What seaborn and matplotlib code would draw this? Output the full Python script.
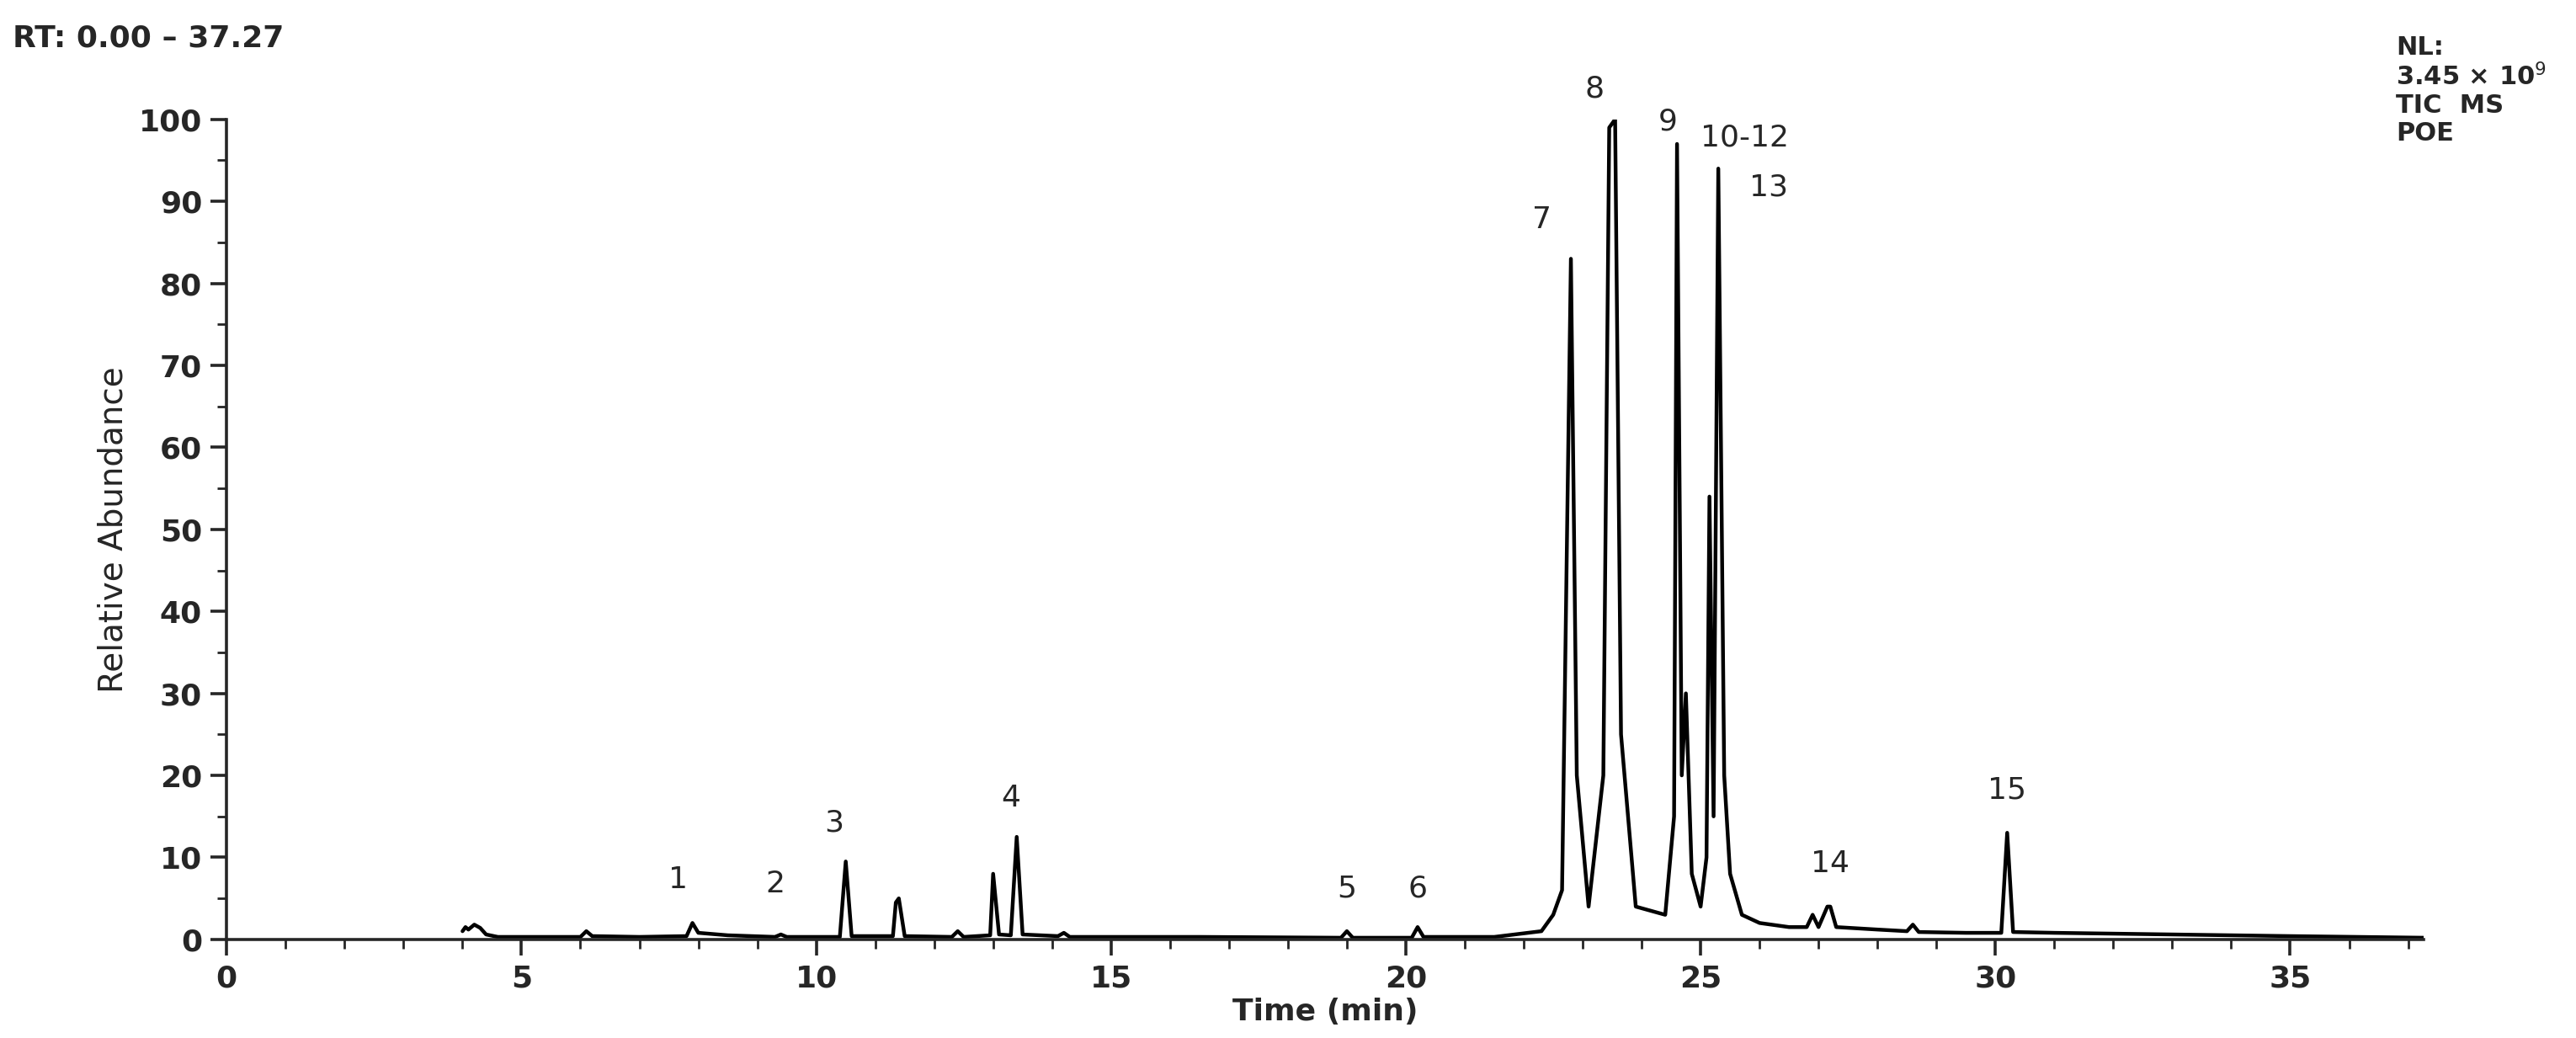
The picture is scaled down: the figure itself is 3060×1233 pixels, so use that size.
import matplotlib
matplotlib.use('Agg')
import matplotlib.pyplot as plt
import seaborn as sns
import pandas as pd
from matplotlib.ticker import MultipleLocator

sns.set_theme(style='ticks')
plt.rcParams['font.family'] = ['DejaVu Sans']

# chromatogram vertices (time min, relative abundance)
rt = [4.0, 4.05, 4.1, 4.2, 4.3, 4.4, 4.6, 6.0, 6.1, 6.2, 7.0, 7.8, 7.9, 8.0, 8.5, 9.3, 9.4, 9.5,
      10.4, 10.5, 10.6, 11.3, 11.35, 11.4, 11.5, 12.3, 12.4, 12.5, 12.95, 13.0, 13.1, 13.3, 13.4, 13.5,
      14.1, 14.2, 14.3, 16.5, 18.9, 19.0, 19.1, 20.1, 20.2, 20.3, 21.5, 22.3, 22.5, 22.65, 22.8, 22.9,
      23.1, 23.35, 23.45, 23.55, 23.65, 23.9, 24.4, 24.55, 24.6, 24.68, 24.75, 24.85, 25.0, 25.1,
      25.15, 25.22, 25.3, 25.4, 25.5, 25.7, 26.0, 26.5, 26.8, 26.9, 27.0, 27.15, 27.2, 27.3, 28.0,
      28.5, 28.6, 28.7, 29.5, 30.1, 30.2, 30.3, 31.0, 33.0, 35.0, 37.27]
abund = [1.0, 1.5, 1.2, 1.8, 1.4, 0.6, 0.3, 0.3, 1.0, 0.4, 0.3, 0.4, 2.0, 0.8, 0.5, 0.3, 0.6, 0.3,
         0.3, 9.5, 0.4, 0.4, 4.5, 5.0, 0.4, 0.3, 1.0, 0.3, 0.5, 8.0, 0.6, 0.5, 12.5, 0.6,
         0.4, 0.8, 0.3, 0.3, 0.2, 1.0, 0.2, 0.2, 1.5, 0.3, 0.3, 1.0, 3.0, 6.0, 83.0, 20.0,
         4.0, 20.0, 99.0, 100.0, 25.0, 4.0, 3.0, 15.0, 97.0, 20.0, 30.0, 8.0, 4.0, 10.0,
         54.0, 15.0, 94.0, 20.0, 8.0, 3.0, 2.0, 1.5, 1.5, 3.0, 1.5, 4.0, 4.0, 1.5, 1.2,
         1.0, 1.8, 0.9, 0.8, 0.8, 13.0, 0.9, 0.8, 0.6, 0.4, 0.2]

peak_labels = ['1', '2', '3', '4', '5', '6', '7', '8', '9', '10-12', '13', '14', '15']
label_x = [7.65, 9.3, 10.3, 13.3, 19.0, 20.2, 22.3, 23.2, 24.45, 25.75, 26.15, 27.2, 30.2]
label_y = [5.5, 5.0, 12.5, 15.5, 4.5, 4.5, 86, 102, 98, 96, 90, 7.5, 16.5]

df = pd.DataFrame({'Time (min)': rt, 'Relative Abundance': abund})

fig = plt.figure(figsize=(15.3, 6.165), dpi=200)
ax = fig.add_axes([0.088, 0.095, 0.853, 0.79])
sns.lineplot(data=df, x='Time (min)', y='Relative Abundance', color='black', lw=1.6, ax=ax)

for lab, x, y in zip(peak_labels, label_x, label_y):
    ax.text(x, y, lab, ha='center', va='bottom', fontsize=13)

ax.set_xlim(0, 37.27)
ax.set_ylim(0, 100)
ax.xaxis.set_major_locator(MultipleLocator(5))
ax.xaxis.set_minor_locator(MultipleLocator(1))
ax.yaxis.set_major_locator(MultipleLocator(10))
ax.yaxis.set_minor_locator(MultipleLocator(5))
ax.tick_params(which='major', length=7, width=1.3, labelsize=13)
ax.tick_params(which='minor', length=4, width=1)
for t in ax.get_xticklabels() + ax.get_yticklabels():
    t.set_fontweight('bold')
ax.set_xlabel('Time (min)', fontsize=13, fontweight='bold', labelpad=2)
ax.set_ylabel('Relative Abundance', fontsize=14)
sns.despine(ax=ax)
for s in ax.spines.values():
    s.set_linewidth(1.3)

fig.text(0.005, 0.955, 'RT: 0.00 – 37.27', fontsize=13, fontweight='bold')
fig.text(0.93, 0.86, 'NL:\n3.45 × 10$^9$\nTIC  MS\nPOE', fontsize=11, fontweight='bold',
         va='bottom', linespacing=1.15)

fig.savefig('out.png', dpi=200)
